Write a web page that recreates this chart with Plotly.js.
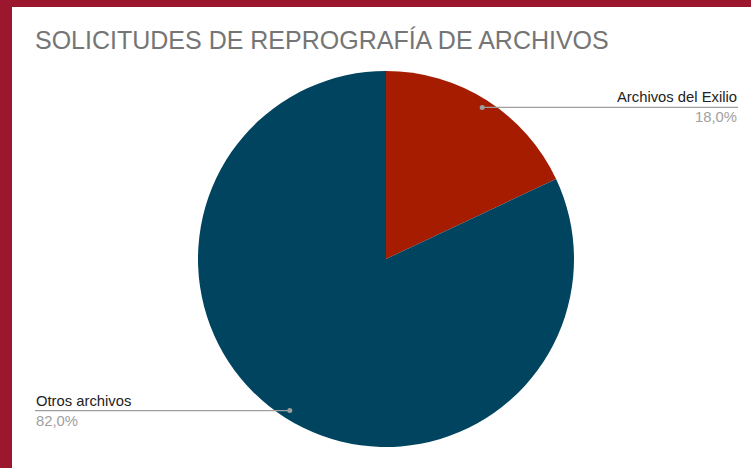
<!DOCTYPE html>
<html>
<head>
<meta charset="utf-8">
<script src="https://cdn.plot.ly/plotly-3.0.1.min.js"></script>
<style>html,body{margin:0;padding:0;background:#fff;}#chart{width:751px;height:468px;}</style>
</head>
<body>
<div id="chart"></div>
<script>
const categories = ["Archivos del Exilio", "Otros archivos"];
const values = [18.0, 82.0];
const pctLabels = ["18,0%", "82,0%"];
const colors = ["#a51c00", "#01445f"];

const W = 751, H = 468;
const cx = 386, cy = 259, R = 188;
const px = x => x / W, py = y => 1 - y / H;
const FONT = 'Liberation Sans, Arial, sans-serif';

const total = values.reduce((a, b) => a + b, 0);
const shapes = [
  {type:'rect', xref:'paper', yref:'paper', x0:0, x1:px(12), y0:0, y1:1, fillcolor:'#9b172e', line:{width:0}, layer:'above'},
  {type:'rect', xref:'paper', yref:'paper', x0:0, x1:1, y0:py(7), y1:1, fillcolor:'#9b172e', line:{width:0}, layer:'above'}
];
const annotations = [];
let cum = 0;
values.forEach((v, i) => {
  const mid = (cum + v / 2) / total * 2 * Math.PI;
  cum += v;
  const dx = cx + 0.955 * R * Math.sin(mid);
  const dy = cy - 0.955 * R * Math.cos(mid);
  const right = Math.sin(mid) >= 0;
  const endX = right ? 738 : 35;
  shapes.push({type:'line', xref:'paper', yref:'paper', x0:px(dx), y0:py(dy), x1:px(endX), y1:py(dy), line:{color:'#9e9e9e', width:1.3}, layer:'above'});
  shapes.push({type:'circle', xref:'paper', yref:'paper', x0:px(dx-2.5), x1:px(dx+2.5), y0:py(dy+2.5), y1:py(dy-2.5), fillcolor:'#9e9e9e', line:{width:0}, layer:'above'});
  annotations.push({xref:'paper', yref:'paper', x:px(endX), y:py(dy-1), xanchor: right ? 'right':'left', yanchor:'bottom', text:categories[i], showarrow:false, font:{family:FONT, size:14.8, color:'#222222'}, borderpad:0});
  annotations.push({xref:'paper', yref:'paper', x:px(endX), y:py(dy+1), xanchor: right ? 'right':'left', yanchor:'top', text:pctLabels[i], showarrow:false, font:{family:FONT, size:14.8, color:'#a0a0a0'}, borderpad:0});
});

const data = [{
  type:'pie',
  labels:categories,
  values:values,
  sort:false,
  direction:'clockwise',
  rotation:0,
  marker:{colors:colors, line:{width:0}},
  textinfo:'none',
  hoverinfo:'label+percent',
  domain:{x:[px(cx-R), px(cx+R)], y:[py(cy+R), py(cy-R)]},
  showlegend:false
}];

const layout = {
  width:W, height:H,
  margin:{l:0, r:0, t:0, b:0},
  paper_bgcolor:'#ffffff',
  plot_bgcolor:'#ffffff',
  showlegend:false,
  title:{text:'SOLICITUDES DE REPROGRAFÍA DE ARCHIVOS', x:px(35), xanchor:'left', xref:'container', y:py(40), yanchor:'middle', yref:'container', font:{family:FONT, size:25, color:'#757575'}},
  shapes:shapes,
  annotations:annotations
};

Plotly.newPlot('chart', data, layout, {displayModeBar:false, staticPlot:true});
</script>
</body>
</html>
